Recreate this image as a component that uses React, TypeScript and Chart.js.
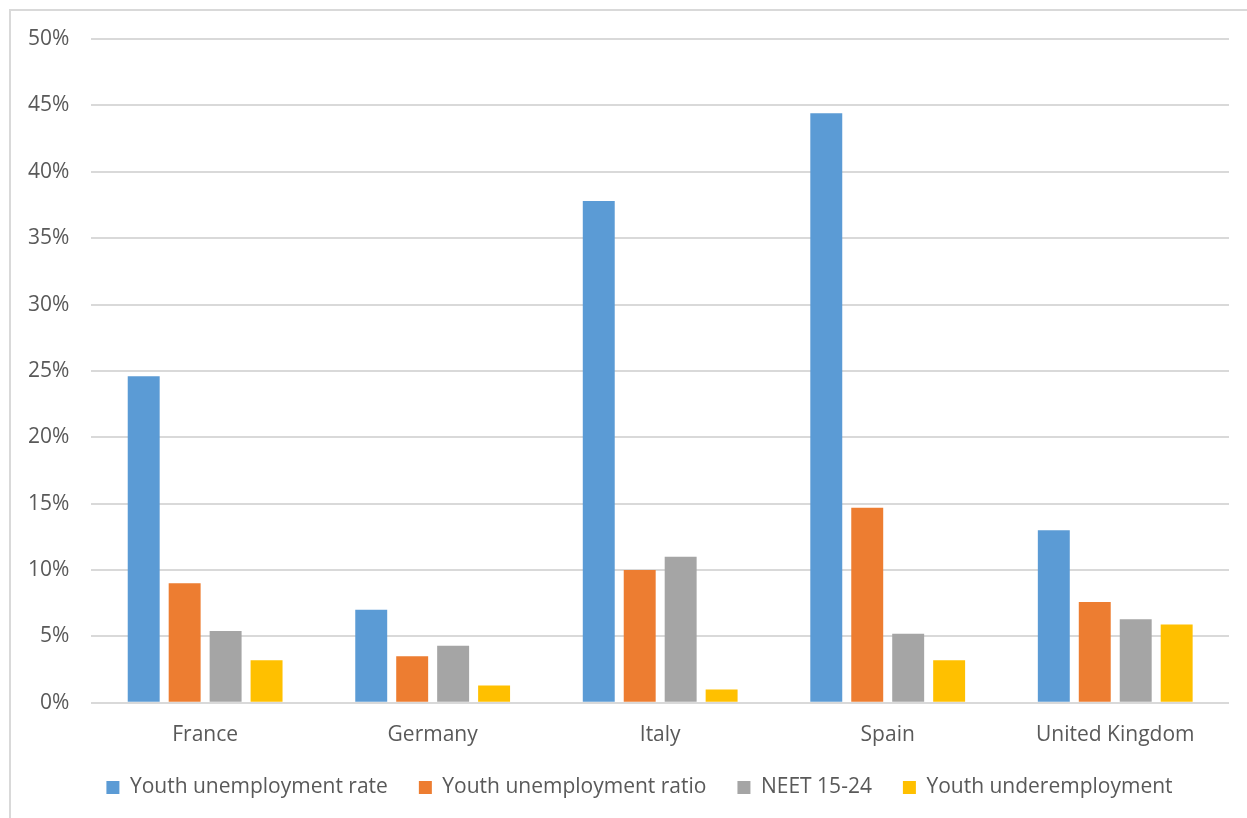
import React, { useEffect, useRef } from "react";
import { Chart, registerables } from "chart.js";

Chart.register(...registerables);

const categories = ["France", "Germany", "Italy", "Spain", "United Kingdom"];
const youthUnemploymentRate = [24.6, 7.0, 37.8, 44.4, 13.0];
const youthUnemploymentRatio = [9.0, 3.5, 10.0, 14.7, 7.6];
const neet1524 = [5.4, 4.3, 11.0, 5.2, 6.3];
const youthUnderemployment = [3.2, 1.3, 1.0, 3.2, 5.9];
const seriesNames = [
  "Youth unemployment rate",
  "Youth unemployment ratio",
  "NEET 15-24",
  "Youth underemployment",
];
const yTicks = [0, 5, 10, 15, 20, 25, 30, 35, 40, 45, 50];

const FONT = "'Open Sans', sans-serif";
const TEXT = "#595959";
const GRID = "#d9d9d9";

// shift the legend drawing (layout tweak only)
const legendShift = {
  id: "legendShift",
  afterLayout(chart: any) {
    const lg = chart.legend;
    if (!lg) return;
    lg.top -= 14;
    lg.bottom -= 14;
    lg.left += 22;
    lg.right += 22;
  },
};

export default function App() {
  const ref = useRef<HTMLCanvasElement | null>(null);

  useEffect(() => {
    if (!ref.current) return;
    const colors = ["#5B9BD5", "#ED7D31", "#A5A5A5", "#FFC000"];
    const values = [youthUnemploymentRate, youthUnemploymentRatio, neet1524, youthUnderemployment];
    const chart = new Chart(ref.current, {
      type: "bar",
      data: {
        labels: categories,
        datasets: values.map((v, i) => ({
          label: seriesNames[i],
          data: v,
          backgroundColor: colors[i],
          borderWidth: 0,
          categoryPercentage: 0.72,
          barPercentage: 0.78,
        })),
      },
      plugins: [legendShift],
      options: {
        animation: false,
        responsive: false,
        maintainAspectRatio: false,
        layout: { padding: { left: 6, right: 18, top: 39, bottom: -4 } },
        plugins: {
          title: { display: false },
          tooltip: { enabled: false },
          legend: {
            display: true,
            position: "bottom",
            labels: {
              color: TEXT,
              font: { family: FONT, size: 21 },
              boxWidth: 13,
              boxHeight: 13,
              padding: 31,
            },
          },
        },
        scales: {
          x: {
            grid: { display: false },
            border: { display: false },
            ticks: {
              color: TEXT,
              font: { family: FONT, size: 21 },
              padding: 12,
            },
          },
          y: {
            min: 0,
            max: 50,
            afterBuildTicks: (axis: any) => {
              axis.ticks = yTicks.map((t) => ({ value: t }));
            },
            grid: { color: GRID, lineWidth: 2, drawTicks: false },
            border: { display: false },
            ticks: {
              color: TEXT,
              font: { family: FONT, size: 21 },
              padding: 22,
              callback: (v: any) => v + "%",
            },
          },
        },
      },
    });
    return () => chart.destroy();
  }, []);

  return (
    <div style={{ position: "fixed", left: 0, top: 0, width: 1247, height: 818, background: "#fff", overflow: "hidden" }}>
      <div
        style={{
          position: "absolute",
          left: 9,
          top: 9,
          width: 1260,
          height: 830,
          borderLeft: "2px solid #d9d9d9",
          borderTop: "2px solid #d9d9d9",
        }}
      />
      <canvas ref={ref} width={1247} height={818} style={{ position: "absolute", left: 0, top: 0 }} />
    </div>
  );
}
